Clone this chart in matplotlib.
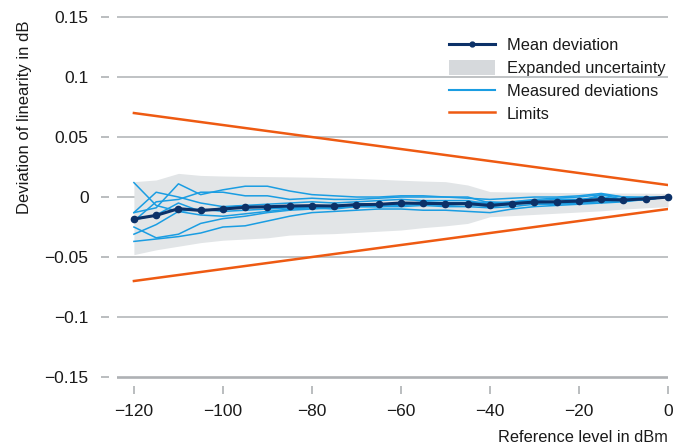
import matplotlib
matplotlib.use("Agg")
import matplotlib.pyplot as plt
from matplotlib.patches import Patch
from matplotlib.lines import Line2D
from matplotlib import font_manager

names = {f.name for f in font_manager.fontManager.ttflist}
fam = ['Liberation Sans Narrow', 'DejaVu Sans'] if 'Liberation Sans Narrow' in names else ['Liberation Sans', 'DejaVu Sans']
plt.rcParams['font.family'] = fam

levels = [-120, -115, -110, -105, -100, -95, -90, -85, -80, -75, -70, -65, -60,
          -55, -50, -45, -40, -35, -30, -25, -20, -15, -10, -5, 0]

mean_dev = [-0.0183, -0.0153, -0.0097, -0.0112, -0.0100, -0.0086, -0.0081, -0.0075,
            -0.0072, -0.0075, -0.0064, -0.0061, -0.0050, -0.0053, -0.0055, -0.0055,
            -0.0070, -0.0055, -0.0042, -0.0040, -0.0034, -0.0020, -0.0025, -0.0015, 0.0]

unc_upper = [0.0128, 0.0142, 0.0197, 0.0180, 0.0175, 0.0172, 0.0170, 0.0168, 0.0165,
             0.0160, 0.0155, 0.0148, 0.0140, 0.0133, 0.0128, 0.0100, 0.0045, 0.0042,
             0.0040, 0.0038, 0.0036, 0.0035, 0.0033, 0.0032, 0.0030]
unc_lower = [-0.0480, -0.0440, -0.0410, -0.0380, -0.0360, -0.0350, -0.0340, -0.0317,
             -0.0310, -0.0305, -0.0295, -0.0285, -0.0275, -0.0255, -0.0240, -0.0220,
             -0.0164, -0.0155, -0.0145, -0.0135, -0.0125, -0.0115, -0.0100, -0.0090, -0.0080]

meas_1 = [0.012, -0.007, -0.012, -0.015, -0.016, -0.014, -0.012, -0.010, -0.009, -0.010, -0.008, -0.008, -0.007,
          -0.006, -0.007, -0.006, -0.008, -0.006, -0.005, -0.005, -0.004, -0.003, -0.003, -0.002, 0.0]
meas_2 = [-0.013, 0.004, 0.000, -0.005, -0.008, -0.007, -0.006, -0.005, -0.004, -0.005, -0.004, -0.003, -0.002,
          -0.003, -0.003, -0.003, -0.006, -0.004, -0.003, -0.002, -0.002, 0.000, -0.002, -0.001, 0.0]
meas_3 = [-0.013, -0.009, 0.011, 0.002, 0.006, 0.009, 0.009, 0.005, 0.002, 0.001, 0.000, 0.000, 0.001,
          0.001, 0.000, -0.001, -0.002, -0.001, 0.000, 0.000, 0.001, 0.003, 0.000, -0.001, 0.0]
meas_4 = [-0.025, -0.034, -0.031, -0.022, -0.018, -0.016, -0.013, -0.011, -0.010, -0.009, -0.008, -0.008, -0.008,
          -0.007, -0.008, -0.008, -0.009, -0.008, -0.006, -0.006, -0.005, -0.004, -0.003, -0.002, 0.0]
meas_5 = [-0.031, -0.023, -0.012, -0.010, -0.012, -0.011, -0.010, -0.009, -0.008, -0.007, -0.006, -0.006, -0.005,
          -0.006, -0.005, -0.005, -0.007, -0.006, -0.004, -0.004, -0.003, -0.002, -0.002, -0.001, 0.0]
meas_6 = [-0.037, -0.035, -0.033, -0.030, -0.025, -0.024, -0.020, -0.016, -0.013, -0.012, -0.011, -0.010, -0.010,
          -0.011, -0.011, -0.012, -0.013, -0.010, -0.008, -0.007, -0.006, -0.005, -0.004, -0.002, 0.0]
meas_7 = [-0.019, -0.015, -0.005, -0.012, -0.009, -0.007, -0.009, -0.008, -0.009, -0.008, -0.006, -0.007, -0.006,
          -0.004, -0.005, -0.005, -0.004, -0.005, -0.004, -0.004, -0.004, 0.002, -0.002, -0.002, 0.0]
meas_8 = [-0.020, -0.004, -0.002, 0.004, 0.004, 0.001, 0.001, -0.002, -0.001, -0.002, -0.002, -0.001, 0.000,
          0.000, 0.000, 0.000, -0.005, -0.004, -0.002, -0.001, 0.000, 0.002, 0.000, 0.000, 0.0]
measured = [meas_1, meas_2, meas_3, meas_4, meas_5, meas_6, meas_7, meas_8]

limit_x = [-120, 0]
limit_upper = [0.07, 0.01]
limit_lower = [-0.07, -0.01]

yticks = [-0.15, -0.1, -0.05, 0, 0.05, 0.1, 0.15]
ytick_labels = ['\u22120.15', '\u22120.1', '\u22120.05', '0', '0.05', '0.1', '0.15']
xticks = [-120, -100, -80, -60, -40, -20, 0]
xtick_labels = ['\u2212120', '\u2212100', '\u221280', '\u221260', '\u221240', '\u221220', '0']

C_MEAN = '#0c3168'
C_MEAS = '#1a9de2'
C_LIM = '#ee5a12'
C_BAND = '#e2e5e7'
C_GRID = '#aeb1b4'

W, H = 682, 447
fig = plt.figure(figsize=(W / 100, H / 100), dpi=100)
ax = fig.add_axes([117 / W, 1 - 380 / H, (668 - 117) / W, 365 / H])
ax.set_xlim(-123.8, 0)
ax.set_ylim(-0.1525, 0.1517)

for s in ax.spines.values():
    s.set_visible(False)
ax.spines['left'].set_position(('outward', 5.5))
ax.spines['bottom'].set_position(('outward', 4.5))

for yv in yticks:
    ax.axhline(yv, color=C_GRID, lw=1.9 if yv == -0.15 else 1.1, zorder=1)

ax.fill_between(levels, unc_lower, unc_upper, color=C_BAND, lw=0, zorder=2)
for m in measured:
    ax.plot(levels, m, color=C_MEAS, lw=1.1, zorder=3)
ax.plot(limit_x, limit_upper, color=C_LIM, lw=1.8, zorder=4)
ax.plot(limit_x, limit_lower, color=C_LIM, lw=1.8, zorder=4)
ax.plot(levels, mean_dev, color=C_MEAN, lw=2.2, marker='o', ms=4.5, zorder=5, clip_on=False)

ax.set_yticks(yticks)
ax.set_yticklabels(ytick_labels)
ax.set_xticks(xticks)
ax.set_xticklabels(xtick_labels)
ax.tick_params(axis='y', length=6, width=1.2, color=C_GRID, pad=9, labelsize=12.5, labelcolor='#1a1a1a')
ax.tick_params(axis='x', length=5.5, width=1.2, color=C_GRID, pad=7, labelsize=12.5, labelcolor='#1a1a1a')

fig.text(25 / W, 1 - 20 / H, 'Deviation of linearity in dB', rotation=90, ha='center', va='top',
         fontsize=12, color='#1a1a1a')
fig.text(668 / W, 1 - 438 / H, 'Reference level in dBm', ha='right', va='center',
         fontsize=11.8, color='#1a1a1a')

handles = [
    Line2D([], [], color=C_MEAN, lw=2.2, marker='o', ms=3.5),
    Patch(facecolor='#d6d9dc', edgecolor='none'),
    Line2D([], [], color=C_MEAS, lw=1.5),
    Line2D([], [], color=C_LIM, lw=1.8),
]
labels = ['Mean deviation', 'Expanded uncertainty', 'Measured deviations', 'Limits']
leg = fig.legend(handles, labels, loc='upper left', bbox_to_anchor=(438 / W, 1 - 26 / H),
                 frameon=False, fontsize=11.8, handlelength=2.8, handleheight=1.0,
                 handletextpad=0.7, labelspacing=0.42, borderpad=0.2)
for t in leg.get_texts():
    t.set_color('#1a1a1a')

fig.savefig('out.png', dpi=100)
